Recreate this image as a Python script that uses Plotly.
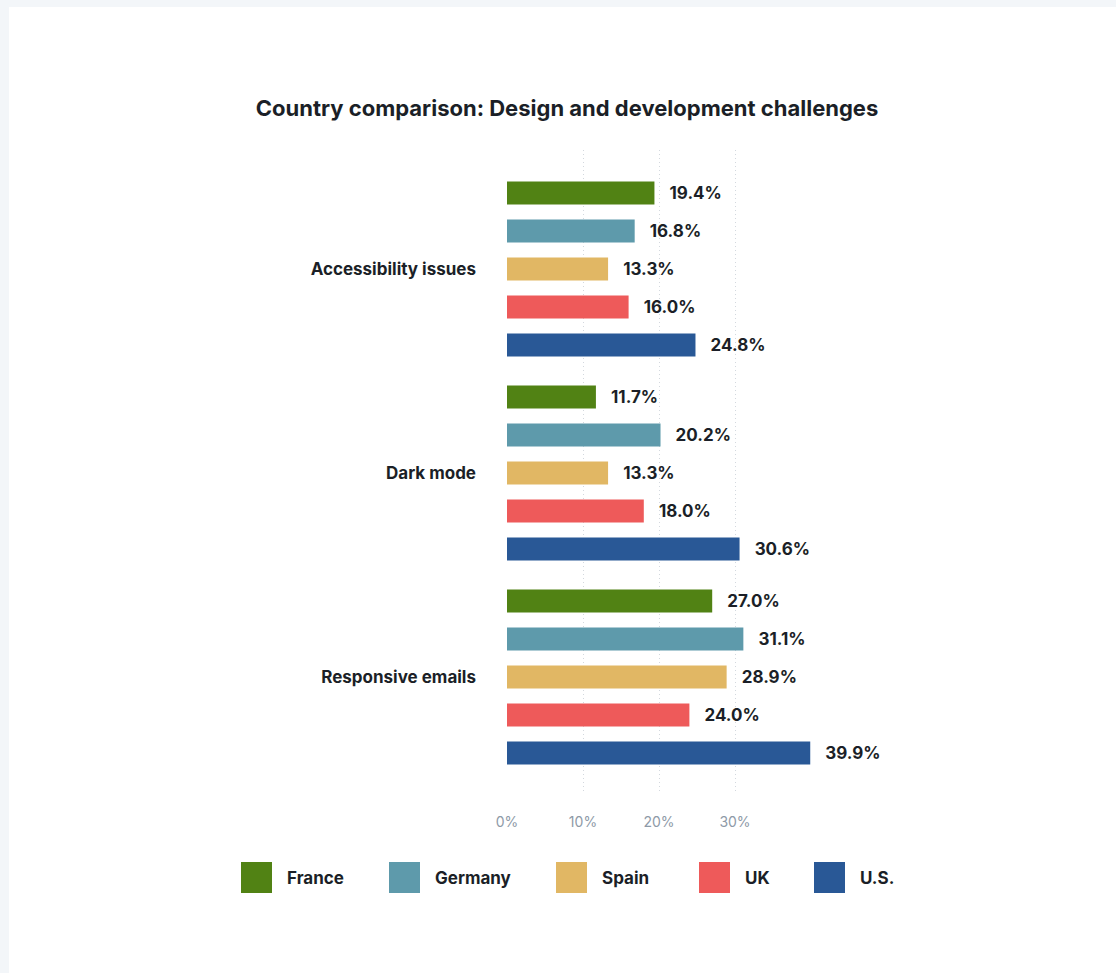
import plotly.graph_objects as go

# Survey data: share of respondents naming each challenge, by country
challenges = ["Accessibility issues", "Dark mode", "Responsive emails"]
countries = ["France", "Germany", "Spain", "UK", "U.S."]
france = [19.4, 11.7, 27.0]
germany = [16.8, 20.2, 31.1]
spain = [13.3, 13.3, 28.9]
uk = [16.0, 18.0, 24.0]
us = [24.8, 30.6, 39.9]
x_ticks = [0, 10, 20, 30]
x_tick_labels = ["0%", "10%", "20%", "30%"]

series = [france, germany, spain, uk, us]
colors = ["#518214", "#5e9aab", "#e1b764", "#ee5a5a", "#295896"]

W, H = 1116, 973
ML, MR, MT, MB = 507, 305, 150, 180
PW = W - ML - MR
PH = H - MT - MB

TEXT = "#1b1f27"
FONT = "Inter, Roboto, 'Open Sans', Arial, sans-serif"


def px_x(px):
    return (px - ML) / PW


def px_y(py):
    return (H - MB - py) / PH


fig = go.Figure()
for name, vals, col in zip(countries, series, colors):
    fig.add_trace(go.Bar(
        name=name,
        y=challenges,
        x=vals,
        orientation="h",
        marker=dict(color=col, line=dict(width=0)),
        text=["   " + f"{v:.1f}%" for v in vals],
        textposition="outside",
        cliponaxis=False,
        textfont=dict(family=FONT, size=17, color=TEXT, weight="bold"),
        showlegend=False,
        hoverinfo="skip",
    ))

# White card behind the chart
shapes = [dict(
    type="rect", xref="paper", yref="paper", layer="below",
    x0=px_x(9), x1=px_x(W + 5), y0=px_y(H + 5), y1=px_y(7),
    fillcolor="white", line=dict(width=0),
)]

# Legend drawn as coloured squares with labels
legend_px = [241, 389, 556, 699, 814]
annotations = []
for name, col, lx in zip(countries, colors, legend_px):
    shapes.append(dict(
        type="rect", xref="paper", yref="paper",
        x0=px_x(lx), x1=px_x(lx + 31), y0=px_y(893), y1=px_y(862),
        fillcolor=col, line=dict(width=0),
    ))
    annotations.append(dict(
        xref="paper", yref="paper", x=px_x(lx + 44), y=px_y(878),
        xanchor="left", yanchor="middle", showarrow=False, text=name,
        font=dict(family=FONT, size=17, color=TEXT, weight="bold"),
    ))

fig.update_layout(
    width=W, height=H,
    margin=dict(l=ML, r=MR, t=MT, b=MB, pad=0),
    paper_bgcolor="#f3f6f9",
    plot_bgcolor="white",
    barmode="group",
    bargap=0.069,
    bargroupgap=0.395,
    title=dict(
        text="Country comparison: Design and development challenges",
        xref="container", yref="container",
        x=567 / W, y=1 - 108 / H, xanchor="center", yanchor="middle",
        font=dict(family=FONT, size=22, color=TEXT, weight="bold"),
    ),
    xaxis=dict(
        range=[0, 40],
        tickvals=x_ticks,
        ticktext=x_tick_labels,
        showgrid=True,
        gridcolor="#d3d8de",
        griddash="1px,3px",
        gridwidth=1,
        zeroline=False,
        showline=False,
        ticks="",
        ticklabelstandoff=19,
        tickfont=dict(family=FONT, size=14, color="#8e9aa7"),
        fixedrange=True,
    ),
    yaxis=dict(
        type="category",
        categoryorder="array",
        categoryarray=challenges,
        range=[2.569, -0.583],
        showgrid=False,
        zeroline=False,
        showline=False,
        ticks="",
        ticklabelstandoff=30,
        tickfont=dict(family=FONT, size=17, color=TEXT, weight="bold"),
        fixedrange=True,
    ),
    shapes=shapes,
    annotations=annotations,
    showlegend=False,
)

fig.write_html("out.html", config={"displayModeBar": False})
